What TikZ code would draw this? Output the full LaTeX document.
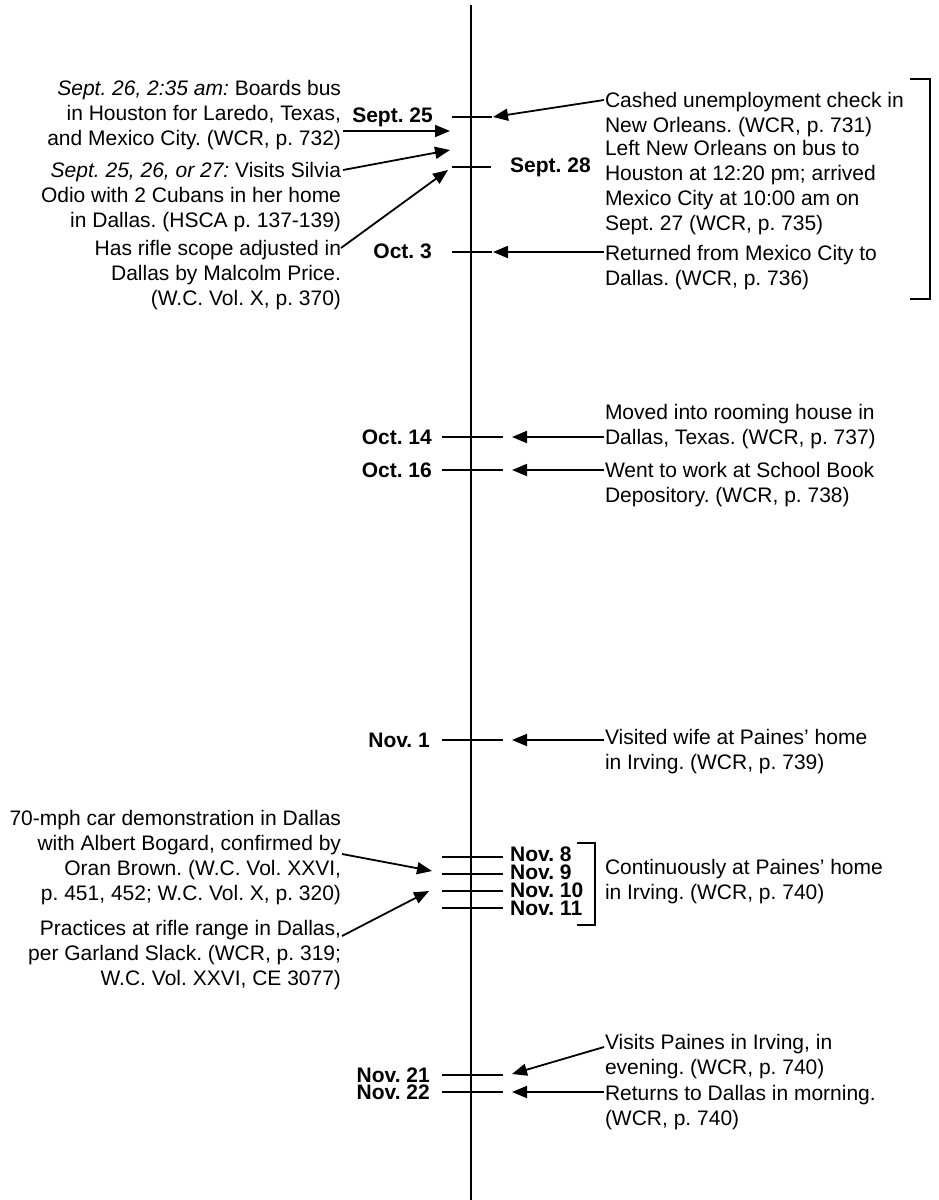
\documentclass[tikz,border=0pt]{standalone}
\usepackage{fontspec}
\setmainfont{Liberation Sans}
\usetikzlibrary{arrows.meta}
\frenchspacing
\begin{document}
\begin{tikzpicture}[x=1pt,y=-1pt,
  txt/.style={font=\fontsize{21}{25}\selectfont, inner sep=0pt, outer sep=0pt},
  ltxt/.style={txt, align=right, anchor=base east},
  rtxt/.style={txt, align=left, anchor=base west},
  datel/.style={font=\fontsize{21}{25}\selectfont\bfseries, inner sep=0pt, anchor=base east},
  dater/.style={font=\fontsize{21}{25}\selectfont\bfseries, inner sep=0pt, anchor=base west},
  tickline/.style={line width=1.6pt},
  arr/.style={line width=1.8pt, -{Triangle[length=15pt,width=12pt]}},
  brk/.style={line width=1.8pt}]
\useasboundingbox (0,0) rectangle (938,1200);
% main time line
\coordinate (ltop) at (471,5);
\coordinate (lbot) at (471,1200);
\draw[line width=2.6pt] (ltop) -- (lbot);
% ticks
\foreach \n/\y/\a/\b in {s25/117/452/492, s28/167/452/491, o3/252/452/492,
   o14/437/442/503, o16/470/442/503, n1/740/442/503,
   n8/857/442/503, n9/874/442/503, n10/891/442/503, n11/908/442/503,
   n21/1075/442/503, n22/1092/442/503}{
  \coordinate (\n-a) at (\a,\y);
  \coordinate (\n-b) at (\b,\y);
  \draw[tickline] (\n-a) -- (\n-b);
}
% date labels
\node[datel] (d-s25) at (433,122) {Sept. 25};
\node[dater] (d-s28) at (510,172) {Sept. 28};
\node[datel] (d-o3) at (432,258) {Oct. 3};
\node[datel] (d-o14) at (432,444) {Oct. 14};
\node[datel] (d-o16) at (432,477) {Oct. 16};
\node[datel] (d-n1) at (430,747) {Nov. 1};
\node[dater] (d-n8) at (510,861) {Nov. 8};
\node[dater] (d-n9) at (510,879) {Nov. 9};
\node[dater] (d-n10) at (510,897) {Nov. 10};
\node[dater] (d-n11) at (510,915) {Nov. 11};
\node[datel] (d-n21) at (430,1082) {Nov. 21};
\node[datel] (d-n22) at (430,1099) {Nov. 22};
% left texts (base anchor = baseline of last line)
\node[ltxt] (L1) at (341,145) {\textit{Sept. 26, 2:35 am:} Boards bus\\in Houston for Laredo, Texas,\\and Mexico City. (WCR, p. 732)};
\node[ltxt] (L2) at (341,227) {\textit{Sept. 25, 26, or 27:} Visits Silvia\\Odio with 2 Cubans in her home\\in Dallas. (HSCA p. 137-139)};
\node[ltxt] (L3) at (341,305) {Has rifle scope adjusted in\\Dallas by Malcolm Price.\\(W.C. Vol. X, p. 370)};
\node[ltxt] (L4) at (341,900) {70-mph car demonstration in Dallas\\with Albert Bogard, confirmed by\\Oran Brown. (W.C. Vol. XXVI,\\p. 451, 452; W.C. Vol. X, p. 320)};
\node[ltxt] (L5) at (341,985) {Practices at rifle range in Dallas,\\per Garland Slack. (WCR, p. 319;\\W.C. Vol. XXVI, CE 3077)};
% right texts
\node[rtxt] (R1) at (605,132) {Cashed unemployment check in\\New Orleans. (WCR, p. 731)};
\node[rtxt] (R2) at (605,230) {Left New Orleans on bus to\\Houston at 12:20 pm; arrived\\Mexico City at 10:00 am on\\Sept. 27 (WCR, p. 735)};
\node[rtxt] (R3) at (605,285) {Returned from Mexico City to\\Dallas. (WCR, p. 736)};
\node[rtxt] (R4) at (605,444) {Moved into rooming house in\\Dallas, Texas. (WCR, p. 737)};
\node[rtxt] (R5) at (605,502) {Went to work at School Book\\Depository. (WCR, p. 738)};
\node[rtxt] (R6) at (605,769) {Visited wife at Paines' home\\in Irving. (WCR, p. 739)};
\node[rtxt] (R7) at (605,899) {Continuously at Paines' home\\in Irving. (WCR, p. 740)};
\node[rtxt] (R8) at (605,1074) {Visits Paines in Irving, in\\evening. (WCR, p. 740)};
\node[rtxt] (R9) at (605,1125) {Returns to Dallas in morning.\\(WCR, p. 740)};
% arrow ends
\coordinate (a1s) at (343,131); \coordinate (a1t) at (450,131);
\coordinate (a2s) at (343,170); \coordinate (a2t) at (450,150);
\coordinate (a3s) at (341,248); \coordinate (a3t) at (448,170);
\coordinate (a4s) at (342,854); \coordinate (a4t) at (432,871);
\coordinate (a5s) at (342,936); \coordinate (a5t) at (429,891);
\coordinate (a6s) at (604,100); \coordinate (a6t) at (493,117);
\coordinate (a7s) at (604,252); \coordinate (a7t) at (493,252);
\coordinate (a8s) at (604,437); \coordinate (a8t) at (512,437);
\coordinate (a9s) at (604,470); \coordinate (a9t) at (512,470);
\coordinate (a10s) at (604,740); \coordinate (a10t) at (512,740);
\coordinate (a11s) at (604,1047); \coordinate (a11t) at (512,1074);
\coordinate (a12s) at (604,1092); \coordinate (a12t) at (512,1092);
\foreach \i in {1,...,12}{\draw[arr] (a\i s) -- (a\i t);}
% brackets
\coordinate (b1a) at (910,79); \coordinate (b1b) at (930,79);
\coordinate (b1c) at (930,299); \coordinate (b1d) at (910,299);
\draw[brk] (b1a) -- (b1b) -- (b1c) -- (b1d);
\coordinate (b2a) at (577,843); \coordinate (b2b) at (595,843);
\coordinate (b2c) at (595,925); \coordinate (b2d) at (577,925);
\draw[brk] (b2a) -- (b2b) -- (b2c) -- (b2d);
\end{tikzpicture}
\end{document}
